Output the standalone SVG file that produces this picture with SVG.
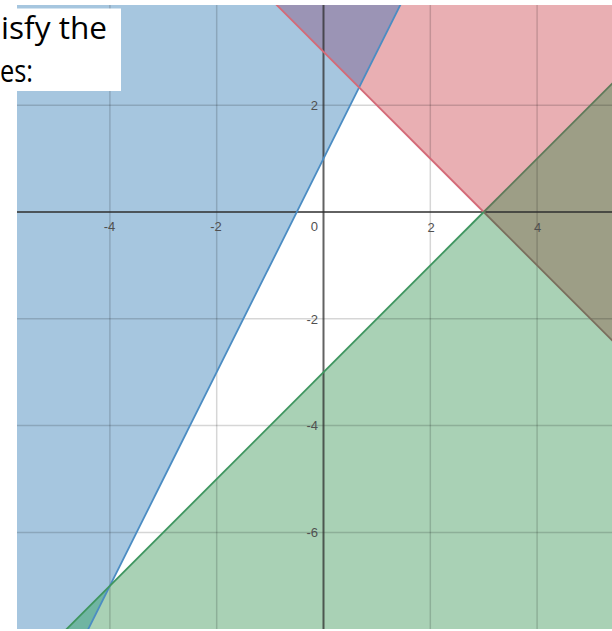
<svg xmlns="http://www.w3.org/2000/svg" width="612" height="631" viewBox="0 0 612 631">
<defs>
<clipPath id="plot"><rect x="17" y="5" width="595" height="624"/></clipPath>
<style>
.grid{stroke:#000;stroke-opacity:0.16;stroke-width:1.5;fill:none}
.axis{stroke:#2e2e2e;stroke-opacity:0.75;stroke-width:2;fill:none}
.tick{font-family:"Liberation Sans",Arial,sans-serif;font-size:13px;fill:#505050}
.cap{font-family:"Open Sans","Liberation Sans",sans-serif;font-size:31px;fill:#000}
</style>
</defs>
<rect width="612" height="631" fill="#fff"/>
<g id="plot-area" clip-path="url(#plot)">
  <g id="regions">
    <polygon fill="#a6c6df" points="0,0 402.8,0 82.8,640 0,640"/>
    <polygon fill="#e9afb3" points="271.7,0 700,0 700,428.3"/>
    <polygon fill="#a9d1b5" points="55.7,640 700,-4.3 700,640"/>
    <polygon fill="#9b94b5" points="271.7,0 402.8,0 359.1,87.4"/>
    <polygon fill="#9d9e86" points="483.7,212 700,-4.3 700,428.3"/>
    <polygon fill="#70b5a2" points="109.9,585.8 82.8,640 55.7,640"/>
  </g>
  <g id="grid">
    <line class="grid" x1="109.9" y1="0" x2="109.9" y2="640"/>
    <line class="grid" x1="216.7" y1="0" x2="216.7" y2="640"/>
    <line class="grid" x1="430.3" y1="0" x2="430.3" y2="640"/>
    <line class="grid" x1="537.1" y1="0" x2="537.1" y2="640"/>
    <line class="grid" x1="0" y1="105.2" x2="612" y2="105.2"/>
    <line class="grid" x1="0" y1="318.8" x2="612" y2="318.8"/>
    <line class="grid" x1="0" y1="425.6" x2="612" y2="425.6"/>
    <line class="grid" x1="0" y1="532.4" x2="612" y2="532.4"/>
  </g>
  <g id="axes">
    <line class="axis" x1="323.5" y1="0" x2="323.5" y2="640"/>
    <line class="axis" x1="0" y1="212" x2="612" y2="212"/>
  </g>
  <g id="boundaries" fill="none" stroke-width="1.8">
    <line stroke="#4b8cc3" x1="402.8" y1="0" x2="82.8" y2="640"/>
    <line stroke="#d46a78" x1="271.7" y1="0" x2="483.7" y2="212"/>
    <line stroke="#7a6f5e" x1="483.7" y1="212" x2="700" y2="428.3"/>
    <line stroke="#3f9660" x1="55.7" y1="640" x2="483.7" y2="212"/>
    <line stroke="#5f7a5a" x1="483.7" y1="212" x2="700" y2="-4.3"/>
  </g>
  <g id="ticks" class="tick">
    <text x="109.5" y="231" text-anchor="middle">-4</text>
    <text x="216" y="231" text-anchor="middle">-2</text>
    <text x="318" y="231" text-anchor="end">0</text>
    <text x="431" y="232" text-anchor="middle">2</text>
    <text x="537.5" y="232" text-anchor="middle">4</text>
    <text x="318" y="110" text-anchor="end">2</text>
    <text x="318" y="324" text-anchor="end">-2</text>
    <text x="318" y="430" text-anchor="end">-4</text>
    <text x="318" y="537" text-anchor="end">-6</text>
  </g>
</g>
<g id="caption">
  <rect x="0" y="8.5" width="121" height="82.5" fill="#fff"/>
  <text class="cap" x="1" y="39" textLength="106" lengthAdjust="spacingAndGlyphs">isfy the</text>
  <text class="cap" x="0" y="82" textLength="33" lengthAdjust="spacingAndGlyphs">es:</text>
</g>
</svg>
